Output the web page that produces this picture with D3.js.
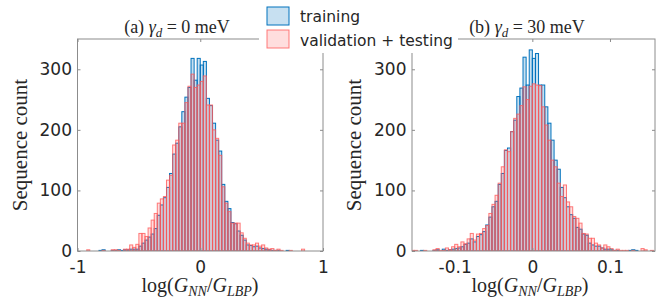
<!DOCTYPE html>
<html>
<head>
<meta charset="utf-8">
<script src="https://cdn.jsdelivr.net/npm/d3@7"></script>
<style>
  body { margin: 0; background: #fff; }
</style>
</head>
<body>
<div id="dv"></div>
<script>
// (a) gamma_d = 0 meV : bins of 0.025 starting at -1
var leftBinStart = -1;
var leftBinWidth = 0.025;
var leftTraining = [
  0, 0, 0, 0, 0, 0, 0, 1, 2, 0,
  0, 1, 1, 2, 1, 2, 2, 3, 3, 3,
  8, 13, 18, 23, 28, 37, 59, 76, 88, 105,
  128, 160, 178, 205, 230, 254, 270, 318, 282, 318,
  307, 313, 252, 240, 211, 183, 165, 110, 82, 70,
  47, 45, 33, 26, 18, 10, 9, 7, 8, 5,
  4, 3, 2, 1, 1, 1, 0, 0, 1, 0,
  0, 0, 0, 0, 0, 0, 0, 0, 0, 0
];
var leftValTest = [
  0, 0, 0, 2, 0, 0, 0, 0, 1, 0,
  0, 2, 2, 1, 0, 3, 3, 10, 6, 11,
  29, 29, 24, 38, 51, 62, 79, 86, 90, 117,
  125, 175, 183, 211, 211, 245, 272, 292, 270, 274,
  280, 289, 241, 241, 200, 186, 158, 106, 79, 65,
  46, 46, 46, 30, 21, 13, 10, 10, 13, 8,
  10, 5, 3, 4, 1, 3, 1, 0, 0, 1,
  0, 0, 0, 3, 0, 0, 0, 0, 0, 0
];

// (b) gamma_d = 30 meV : bins of 0.004 starting at -0.156
var rightBinStart = -0.156;
var rightBinWidth = 0.004;
var rightTraining = [
  0, 0, 0, 1, 0, 0, 0, 1, 2, 0,
  3, 1, 2, 3, 4, 5, 7, 11, 13, 20,
  15, 24, 27, 32, 43, 56, 73, 82, 110, 128,
  166, 170, 197, 216, 255, 269, 320, 274, 332, 318,
  326, 274, 274, 238, 211, 183, 150, 135, 105, 88,
  73, 60, 54, 39, 36, 28, 26, 13, 10, 8,
  8, 5, 3, 3, 2, 1, 1, 0, 0, 0,
  1, 2, 1, 0, 0, 0, 0, 0
];
var rightValTest = [
  1, 1, 0, 0, 1, 0, 0, 2, 4, 1,
  1, 5, 2, 7, 11, 7, 15, 12, 20, 29,
  18, 28, 29, 37, 42, 62, 77, 92, 112, 139,
  167, 164, 197, 219, 226, 240, 271, 250, 272, 276,
  274, 273, 238, 208, 183, 150, 139, 112, 90, 109,
  81, 73, 57, 54, 46, 29, 28, 21, 21, 13,
  10, 5, 10, 7, 4, 1, 3, 1, 1, 1,
  0, 1, 0, 0, 4, 2, 0, 1
];

var yTicks = [0, 100, 200, 300];
var leftXTicks = [-1, 0, 1];
var rightXTicks = [-0.1, 0, 0.1];
var legendLabels = ["training", "validation + testing"];

var trainFill = "rgba(0,114,189,0.22)";
var trainEdge = "#0072bd";
var vtFill = "rgba(255,90,90,0.2)";
var vtEdge = "rgba(255,90,90,0.8)";
var axisColor = "#8c8c8c";
var textColor = "#262626";

var svg = d3
  .select("div#dv")
  .append("svg")
  .attr("width", 663)
  .attr("height", 299);

var top_y = 39;
var bottom_y = 251;

var add_panel = function(p) {
  var g = svg.append("g");

  var x = d3.scaleLinear().domain(p.xDomain).range([p.left, p.right]);
  var y = d3.scaleLinear().domain([0, 350]).range([bottom_y, top_y]);

  g.append("clipPath")
    .attr("id", p.id + "-clip")
    .append("rect")
    .attr("x", p.left)
    .attr("y", top_y)
    .attr("width", p.right - p.left)
    .attr("height", bottom_y - top_y);

  var bins = p.training.map(function(c, i) {
    return {
      x0: p.binStart + i * p.binWidth,
      x1: p.binStart + (i + 1) * p.binWidth,
      train: c,
      vt: p.valTest[i]
    };
  });

  var bars = g.append("g").attr("clip-path", "url(#" + p.id + "-clip)");

  // training first, validation + testing drawn over it
  bars
    .selectAll("rect.train")
    .data(bins.filter(function(d) { return d.train > 0; }))
    .enter()
    .append("rect")
    .attr("class", "train")
    .attr("x", function(d) { return x(d.x0); })
    .attr("width", function(d) { return x(d.x1) - x(d.x0); })
    .attr("y", function(d) { return y(d.train); })
    .attr("height", function(d) { return y(0) - y(d.train); })
    .attr("fill", trainFill)
    .attr("stroke", trainEdge)
    .attr("stroke-width", 1);

  bars
    .selectAll("rect.vt")
    .data(bins.filter(function(d) { return d.vt > 0; }))
    .enter()
    .append("rect")
    .attr("class", "vt")
    .attr("x", function(d) { return x(d.x0); })
    .attr("width", function(d) { return x(d.x1) - x(d.x0); })
    .attr("y", function(d) { return y(d.vt); })
    .attr("height", function(d) { return y(0) - y(d.vt); })
    .attr("fill", vtFill)
    .attr("stroke", vtEdge)
    .attr("stroke-width", 1);

  // Add axes (ticks inside, box on)
  var fmt = function(d) { return String(d); };
  var xb = g.append("g")
    .attr("transform", "translate(0," + bottom_y + ")")
    .call(d3.axisBottom(x).tickValues(p.xTicks).tickSizeInner(-3).tickSizeOuter(0).tickPadding(10).tickFormat(fmt));
  var xt = g.append("g")
    .attr("transform", "translate(0," + top_y + ")")
    .call(d3.axisTop(x).tickValues(p.xTicks).tickSizeInner(-3).tickSizeOuter(0).tickFormat(""));
  var yl = g.append("g")
    .attr("transform", "translate(" + p.left + ",0)")
    .call(d3.axisLeft(y).tickValues(yTicks).tickSizeInner(-3).tickSizeOuter(0).tickPadding(5.5).tickFormat(fmt));
  var yr = g.append("g")
    .attr("transform", "translate(" + p.right + ",0)")
    .call(d3.axisRight(y).tickValues(yTicks).tickSizeInner(-3).tickSizeOuter(0).tickFormat(""));

  [xb, xt, yl, yr].forEach(function(a) {
    a.select(".domain").remove();
    a.selectAll("line").attr("stroke", axisColor);
    a.selectAll("text")
      .attr("fill", textColor)
      .style("font-family", "DejaVu Sans")
      .style("font-size", "17px");
  });

  g.append("rect")
    .attr("x", p.left)
    .attr("y", top_y)
    .attr("width", p.right - p.left)
    .attr("height", bottom_y - top_y)
    .attr("fill", "none")
    .attr("stroke", axisColor)
    .attr("stroke-width", 1);

  // title
  var t = g.append("text")
    .attr("x", p.titleX)
    .attr("y", 33)
    .attr("text-anchor", "middle")
    .style("font-family", "Liberation Serif")
    .style("font-size", "18px")
    .attr("fill", textColor);
  t.append("tspan").text(p.tag + " ");
  t.append("tspan").style("font-style", "italic").text("\u03b3");
  t.append("tspan").attr("dy", 4).style("font-style", "italic").style("font-size", "13px").text("d");
  t.append("tspan").attr("dy", -4).text(" = " + p.gamma + " meV");

  // x label
  var xl = g.append("text")
    .attr("x", p.xLabelX)
    .attr("y", 292)
    .attr("text-anchor", "middle")
    .style("font-family", "Liberation Serif")
    .style("font-size", "20px")
    .attr("fill", textColor);
  xl.append("tspan").text("log(");
  xl.append("tspan").style("font-style", "italic").text("G");
  xl.append("tspan").attr("dy", 4).style("font-style", "italic").style("font-size", "14px").text("NN");
  xl.append("tspan").attr("dy", -4).text("/");
  xl.append("tspan").style("font-style", "italic").text("G");
  xl.append("tspan").attr("dy", 4).style("font-style", "italic").style("font-size", "14px").text("LBP");
  xl.append("tspan").attr("dy", -4).text(")");

  // y label
  g.append("text")
    .attr("transform", "translate(" + (p.left - 51) + ",145) rotate(-90)")
    .attr("text-anchor", "middle")
    .style("font-family", "Liberation Serif")
    .style("font-size", "21px")
    .attr("fill", textColor)
    .text("Sequence count");
};

add_panel({
  id: "a", left: 77.5, right: 323, xDomain: [-1, 1], xTicks: leftXTicks,
  binStart: leftBinStart, binWidth: leftBinWidth,
  training: leftTraining, valTest: leftValTest,
  tag: "(a)", gamma: "0", titleX: 177, xLabelX: 200
});
add_panel({
  id: "b", left: 412, right: 655, xDomain: [-0.155, 0.158], xTicks: rightXTicks,
  binStart: rightBinStart, binWidth: rightBinWidth,
  training: rightTraining, valTest: rightValTest,
  tag: "(b)", gamma: "30", titleX: 527, xLabelX: 530
});

// legend, white box over the plots
var add_legend = function() {
  var lg = svg.append("g");
  lg.append("rect")
    .attr("x", 259)
    .attr("y", 2)
    .attr("width", 199)
    .attr("height", 51)
    .attr("fill", "#fff");

  var items = [
    { label: legendLabels[0], fill: trainFill, edge: trainEdge },
    { label: legendLabels[1], fill: vtFill, edge: vtEdge }
  ];
  lg.selectAll("rect.sw")
    .data(items)
    .enter()
    .append("rect")
    .attr("class", "sw")
    .attr("x", 267)
    .attr("y", function(d, i) { return 7 + i * 23; })
    .attr("width", 22)
    .attr("height", 18)
    .attr("fill", function(d) { return d.fill; })
    .attr("stroke", function(d) { return d.edge; })
    .attr("stroke-width", 1);
  lg.selectAll("text")
    .data(items)
    .enter()
    .append("text")
    .attr("x", 300)
    .attr("y", function(d, i) { return 22 + i * 23.5; })
    .style("font-family", "DejaVu Sans")
    .style("font-size", "15.5px")
    .attr("fill", textColor)
    .text(function(d) { return d.label; });
};
add_legend();
</script>
</body>
</html>
